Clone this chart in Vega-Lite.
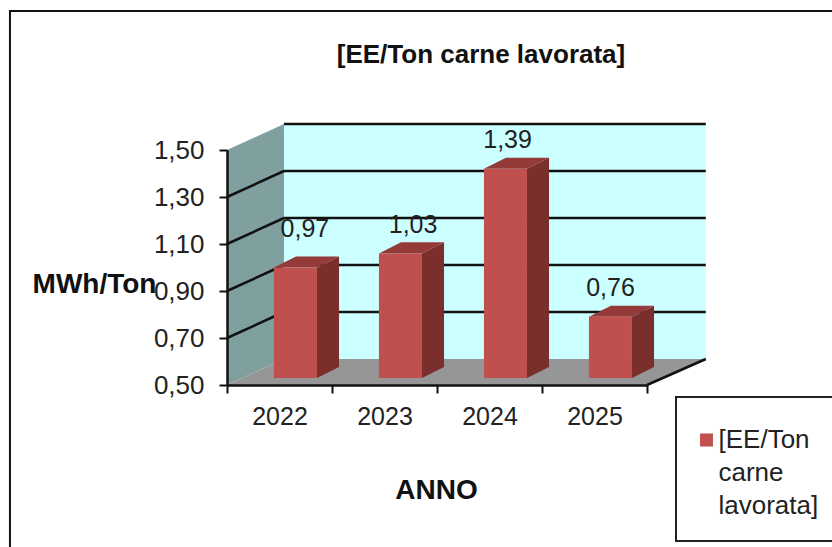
{
  "$schema": "https://vega.github.io/schema/vega-lite/v6.json",
  "width": 420,
  "height": 235,
  "autosize": {"type": "none"},
  "padding": {"left": 227, "top": 150, "right": 185, "bottom": 162},
  "background": "white",
  "config": {"view": {"stroke": null}, "font": "Liberation Sans"},
  "title": {
    "text": "[EE/Ton carne lavorata]",
    "font": "Liberation Sans",
    "fontSize": 26,
    "fontWeight": "bold",
    "color": "#111111",
    "anchor": "middle",
    "frame": "group",
    "dx": 44,
    "offset": -58
  },
  "datasets": {
    "barre": [
      {"anno": 2022, "valore": 0.97, "serie": "[EE/Ton carne lavorata]"},
      {"anno": 2023, "valore": 1.03, "serie": "[EE/Ton carne lavorata]"},
      {"anno": 2024, "valore": 1.39, "serie": "[EE/Ton carne lavorata]"},
      {"anno": 2025, "valore": 0.76, "serie": "[EE/Ton carne lavorata]"}
    ],
    "griglia": [{"v": 0.7}, {"v": 0.9}, {"v": 1.1}, {"v": 1.3}, {"v": 1.5}]
  },
  "layer": [
    {
      "data": {"values": [{"x0": 2019.433, "x1": 2028, "y0": -0.3, "y1": 2.091}]},
      "mark": {"type": "rect", "fill": "white", "stroke": "#111111", "strokeWidth": 2},
      "encoding": {
        "x": {
          "field": "x0",
          "type": "quantitative",
          "scale": {"domain": [2021.5, 2025.5], "nice": false, "zero": false},
          "axis": {
            "title": "ANNO",
            "titleFontSize": 28,
            "titleFontWeight": "bold",
            "titleColor": "#111111",
            "titleX": 209,
            "titleY": 105,
            "titleBaseline": "middle",
            "values": [2021.5, 2022, 2022.5, 2023, 2023.5, 2024, 2024.5, 2025, 2025.5],
            "labelExpr": "datum.value % 1 == 0 ? format(datum.value, 'd') : ''",
            "labelFontSize": 25,
            "labelColor": "#222222",
            "labelPadding": 11,
            "labelOverlap": false,
            "labelFlush": false,
            "labelBaseline": "top",
            "tickSize": 8,
            "tickWidth": 2,
            "tickColor": "#111111",
            "tickOpacity": {"condition": {"test": "datum.value % 1 == 0", "value": 0}, "value": 1},
            "domainColor": "#111111",
            "domainWidth": 2.5,
            "grid": false,
            "zindex": 1
          }
        },
        "x2": {"field": "x1"},
        "y": {
          "field": "y0",
          "type": "quantitative",
          "scale": {"domain": [0.5, 1.5], "nice": false, "zero": false},
          "axis": {
            "title": "MWh/Ton",
            "titleFontSize": 28,
            "titleFontWeight": "bold",
            "titleColor": "#111111",
            "titleAngle": 0,
            "titleX": -133,
            "titleY": 134,
            "titleAlign": "center",
            "titleBaseline": "middle",
            "values": [0.5, 0.7, 0.9, 1.1, 1.3, 1.5],
            "labelExpr": "replace(format(datum.value, '.2f'), '.', ',')",
            "labelFontSize": 26,
            "labelColor": "#222222",
            "labelPadding": 15,
            "labelOverlap": false,
            "labelFlush": false,
            "tickSize": 8,
            "tickWidth": 2,
            "tickColor": "#111111",
            "domainColor": "#111111",
            "domainWidth": 2.5,
            "grid": false,
            "zindex": 1
          }
        },
        "y2": {"field": "y1"}
      }
    },
    {
      "data": {"values": [{"x0": 2022.043, "x1": 2026.06, "y0": 0.6106, "y1": 1.6106}]},
      "mark": {"type": "rect", "fill": "#CCFFFF"},
      "encoding": {
        "x": {"field": "x0", "type": "quantitative"},
        "x2": {"field": "x1"},
        "y": {"field": "y0", "type": "quantitative"},
        "y2": {"field": "y1"}
      }
    },
    {
      "data": {"values": [{"x": 2021.5, "lo": 0.5, "hi": 1.5}, {"x": 2022.043, "lo": 0.6106, "hi": 1.6106}]},
      "mark": {"type": "area", "fill": "#80A0A0", "orient": "vertical"},
      "encoding": {
        "x": {"field": "x", "type": "quantitative"},
        "y": {"field": "lo", "type": "quantitative"},
        "y2": {"field": "hi"}
      }
    },
    {
      "data": {"values": [{"y": 0.5, "x0": 2021.5, "x1": 2025.5}, {"y": 0.6106, "x0": 2022.043, "x1": 2026.06}]},
      "mark": {"type": "area", "fill": "#969696", "orient": "horizontal"},
      "encoding": {
        "y": {"field": "y", "type": "quantitative"},
        "x": {"field": "x0", "type": "quantitative"},
        "x2": {"field": "x1"}
      }
    },
    {
      "data": {"name": "griglia"},
      "transform": [
        {"calculate": "datum.v + 0.1106", "as": "vb"},
        {"calculate": "2022.043", "as": "xa"},
        {"calculate": "2026.06", "as": "xb"}
      ],
      "mark": {"type": "rule", "color": "#111111", "strokeWidth": 2.5},
      "encoding": {
        "x": {"field": "xa", "type": "quantitative"},
        "x2": {"field": "xb"},
        "y": {"field": "vb", "type": "quantitative"}
      }
    },
    {
      "data": {"name": "griglia"},
      "transform": [
        {"filter": "datum.v < 1.4"},
        {"calculate": "datum.v + 0.1106", "as": "vb"},
        {"calculate": "2021.5", "as": "xa"},
        {"calculate": "2022.043", "as": "xb"}
      ],
      "mark": {"type": "rule", "color": "#111111", "strokeWidth": 2.5},
      "encoding": {
        "x": {"field": "xa", "type": "quantitative"},
        "x2": {"field": "xb"},
        "y": {"field": "v", "type": "quantitative"},
        "y2": {"field": "vb"}
      }
    },
    {
      "data": {"values": [{"xa": 2025.5, "xb": 2026.06, "ya": 0.5, "yb": 0.6106}]},
      "mark": {"type": "rule", "color": "#111111", "strokeWidth": 2.5},
      "encoding": {
        "x": {"field": "xa", "type": "quantitative"},
        "x2": {"field": "xb"},
        "y": {"field": "ya", "type": "quantitative"},
        "y2": {"field": "yb"}
      }
    },
    {
      "data": {"name": "barre"},
      "transform": [
        {"calculate": "[0, 1]", "as": "d"},
        {"flatten": ["d"]},
        {"calculate": "datum.anno + 0.152 + 0.205 + datum.d * 0.21", "as": "xs"},
        {"calculate": "datum.valore + 0.03 + datum.d * 0.047", "as": "alto"},
        {"calculate": "0.53 + datum.d * 0.047", "as": "basso"}
      ],
      "mark": {"type": "area", "fill": "#7A2F2D", "orient": "vertical"},
      "encoding": {
        "x": {"field": "xs", "type": "quantitative"},
        "y": {"field": "alto", "type": "quantitative"},
        "y2": {"field": "basso"},
        "detail": {"field": "anno", "type": "nominal"}
      }
    },
    {
      "data": {"name": "barre"},
      "transform": [
        {"calculate": "[0, 1]", "as": "d"},
        {"flatten": ["d"]},
        {"calculate": "datum.anno + 0.152 - 0.205 + datum.d * 0.21", "as": "xa"},
        {"calculate": "datum.anno + 0.152 + 0.205 + datum.d * 0.21", "as": "xb"},
        {"calculate": "datum.valore + 0.03 + datum.d * 0.047", "as": "yt"}
      ],
      "mark": {"type": "area", "fill": "#943A38", "orient": "horizontal"},
      "encoding": {
        "y": {"field": "yt", "type": "quantitative"},
        "x": {"field": "xa", "type": "quantitative"},
        "x2": {"field": "xb"},
        "detail": {"field": "anno", "type": "nominal"}
      }
    },
    {
      "data": {"name": "barre"},
      "transform": [
        {"calculate": "datum.anno + 0.152 - 0.205", "as": "xa"},
        {"calculate": "datum.anno + 0.152 + 0.205", "as": "xb"},
        {"calculate": "datum.valore + 0.03", "as": "yt"},
        {"calculate": "0.53", "as": "yb"}
      ],
      "mark": {"type": "rect"},
      "encoding": {
        "x": {"field": "xa", "type": "quantitative"},
        "x2": {"field": "xb"},
        "y": {"field": "yt", "type": "quantitative"},
        "y2": {"field": "yb"},
        "color": {
          "field": "serie",
          "type": "nominal",
          "scale": {"range": ["#C0504D"]},
          "legend": {
            "title": " ",
            "titleFontSize": 6,
            "titlePadding": 2,
            "orient": "none",
            "legendX": 449,
            "legendY": 247,
            "fillColor": "white",
            "strokeColor": "#222222",
            "padding": 22,
            "symbolType": "square",
            "symbolSize": 170,
            "symbolStrokeWidth": 0,
            "symbolOffset": -4.5,
            "labelFontSize": 26,
            "labelColor": "#222222",
            "labelLimit": 200,
            "labelOffset": -1,
            "labelExpr": "['[EE/Ton', 'carne', 'lavorata]']",
            "encoding": {
              "labels": {"lineHeight": {"value": 33}},
              "legend": {"strokeWidth": {"value": 2}}
            }
          }
        }
      }
    },
    {
      "data": {"name": "barre"},
      "transform": [
        {"calculate": "replace(format(datum.valore, '.2f'), '.', ',')", "as": "etichetta"},
        {"calculate": "datum.anno + 0.152 + (datum.anno == 2022 ? 0.09 : datum.anno == 2023 ? 0.12 : datum.anno == 2024 ? 0.02 : 0)", "as": "xl"},
        {"calculate": "datum.valore + 0.03 + 0.047 + 0.075 + (datum.anno == 2022 ? 0.043 : 0)", "as": "yl"}
      ],
      "mark": {"type": "text", "fontSize": 25, "color": "#222222", "baseline": "middle", "align": "center"},
      "encoding": {
        "x": {"field": "xl", "type": "quantitative"},
        "y": {"field": "yl", "type": "quantitative"},
        "text": {"field": "etichetta", "type": "nominal"}
      }
    }
  ]
}
